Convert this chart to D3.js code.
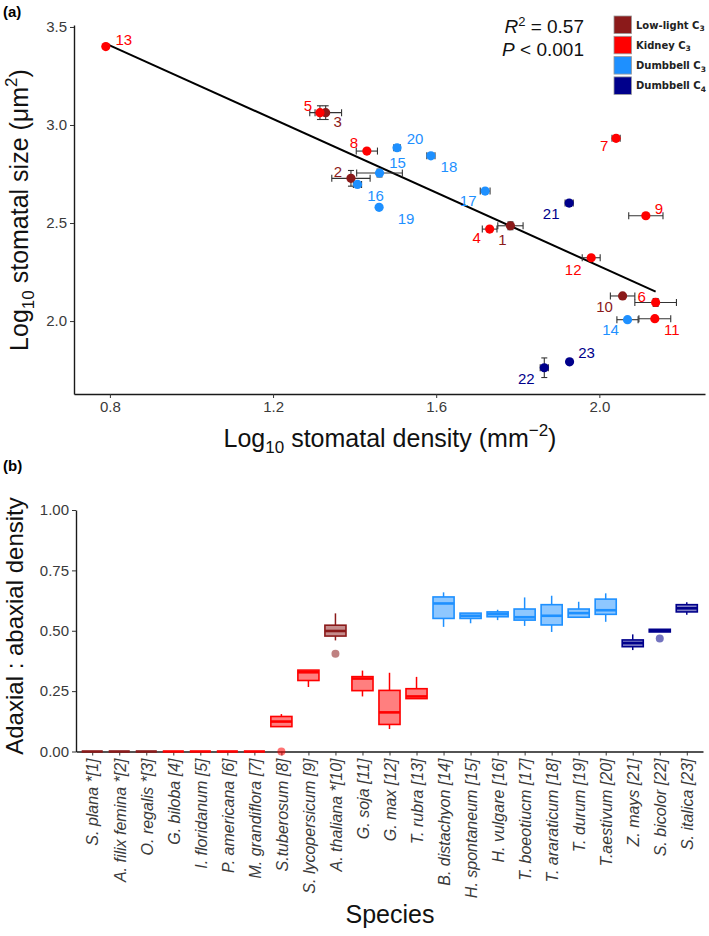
<!DOCTYPE html>
<html>
<head>
<meta charset="utf-8">
<script src="https://cdn.jsdelivr.net/npm/d3@7/dist/d3.min.js"></script>
<style>
  body { margin: 0; background: #fff; }
  svg { display: block; }
</style>
</head>
<body>
<script>
    // ---- panel (a) data: species 1..23 ----
    var speciesIds = d3.range(1, 24);
    var logDensity = [1.782, 1.391, 1.329, 1.731, 1.315, 2.138, 2.041, 1.430, 2.114, 2.057, 2.136, 1.980, 0.790,
                      2.069, 1.461, 1.407, 1.720, 1.587, 1.460, 1.504, 1.926, 1.865, 1.927];
    var logDensityErr = [0.031, 0.047, 0.039, 0.018, 0.012, 0.051, 0.010, 0.026, 0.042, 0.030, 0.039, 0.022, 0.0,
                         0.026, 0.056, 0.010, 0.012, 0.010, 0.0, 0.008, 0.010, 0.010, 0.005];
    var logSize = [2.486, 2.728, 3.063, 2.469, 3.063, 2.095, 2.932, 2.867, 2.537, 2.128, 2.012, 2.323, 3.400,
                   2.007, 2.755, 2.697, 2.663, 2.843, 2.580, 2.884, 2.602, 1.762, 1.792];
    var logSizeErr = [0.02, 0.04, 0.035, 0.01, 0.035, 0.02, 0.01, 0.005, 0.005, 0.01, 0.005, 0.005, 0.0,
                      0.005, 0.02, 0.01, 0.01, 0.01, 0.0, 0.01, 0.01, 0.05, 0.01];
    var groupOf = [0, 0, 0, 1, 1, 1, 1, 1, 1, 0, 1, 1, 1, 2, 2, 2, 2, 2, 2, 2, 3, 3, 3];
    var groupNames = ["Low-light C", "Kidney C", "Dumbbell C", "Dumbbell C"];
    var groupSubs = ["3", "3", "3", "4"];
    var groupColors = ["#8B1A1A", "#FF0000", "#1E90FF", "#00008B"];
    var fitSlope = -0.938, fitIntercept = 4.156;
    var rSquared = "0.57", pText = "0.001";
    var xTicksA = [0.8, 1.2, 1.6, 2.0];
    var yTicksA = [2.0, 2.5, 3.0, 3.5];

    // ---- panel (b) data ----
    var speciesLabels = ["S. plana *[1]", "A. filix femina *[2]", "O. regalis *[3]", "G. biloba [4]",
        "I. floridanum [5]", "P. americana [6]", "M. grandiflora [7]", "S.tuberosum [8]",
        "S. lycopersicum [9]", "A. thaliana *[10]", "G. soja [11]", "G. max [12]", "T. rubra [13]",
        "B. distachyon [14]", "H. spontaneum [15]", "H. vulgare [16]", "T. boeotiucm [17]",
        "T. araraticum [18]", "T. durum [19]", "T.aestivum [20]", "Z. mays [21]", "S. bicolor [22]",
        "S. italica [23]"];
    var whiskerLow = [0, 0, 0, 0, 0, 0, 0, 0.103, 0.267, 0.460, 0.228, 0.093, 0.219,
                      0.516, 0.531, 0.544, 0.520, 0.495, 0.556, 0.537, 0.420, 0.495, 0.566];
    var boxQ1 = [0, 0, 0, 0, 0, 0, 0, 0.103, 0.294, 0.478, 0.252, 0.112, 0.219,
                 0.551, 0.551, 0.558, 0.544, 0.524, 0.556, 0.568, 0.434, 0.495, 0.578];
    var boxMedian = [0, 0, 0, 0, 0, 0, 0, 0.124, 0.328, 0.499, 0.302, 0.162, 0.228,
                     0.613, 0.562, 0.569, 0.556, 0.562, 0.573, 0.585, 0.449, 0.500, 0.593];
    var boxQ3 = [0, 0, 0, 0, 0, 0, 0, 0.145, 0.337, 0.523, 0.310, 0.253, 0.260,
                 0.640, 0.573, 0.578, 0.590, 0.608, 0.590, 0.631, 0.462, 0.506, 0.608];
    var whiskerHigh = [0, 0, 0, 0, 0, 0, 0, 0.155, 0.337, 0.572, 0.335, 0.326, 0.309,
                       0.659, 0.573, 0.587, 0.638, 0.645, 0.620, 0.655, 0.485, 0.506, 0.618];
    var outlierSpecies = [8, 10, 22];
    var outlierValues = [0.0, 0.405, 0.4675];
    var yTicksB = [0, 0.25, 0.5, 0.75, 1.0];

    var W = 709, H = 936;
    var font = "'Liberation Sans', Arial, sans-serif";

    var svg = d3.select("body").append("svg")
        .attr("width", W)
        .attr("height", H)
        .style("font-family", font);

    // ================= panel (a) =================
    var x = d3.scaleLinear().domain([0.712, 2.259]).range([74, 705]);
    var y = d3.scaleLinear().domain([1.628, 3.51]).range([394, 25]);

    svg.append("text")
        .attr("x", 3).attr("y", 17)
        .style("font-size", "15px").style("font-weight", "bold")
        .text("(a)");

    var xAxisA = svg.append("g")
        .attr("transform", "translate(0,394)")
        .call(d3.axisBottom(x).tickValues(xTicksA).tickFormat(d3.format(".1f")).tickSize(4).tickSizeOuter(0).tickPadding(3));
    var yAxisA = svg.append("g")
        .attr("transform", "translate(74,0)")
        .call(d3.axisLeft(y).tickValues(yTicksA).tickFormat(d3.format(".1f")).tickSize(4).tickSizeOuter(0).tickPadding(3));

    [xAxisA, yAxisA].forEach(function(a) {
        a.select(".domain").attr("stroke", "#1a1a1a").attr("stroke-width", 1.4);
        a.selectAll(".tick line").attr("stroke", "#333");
        a.selectAll(".tick text").style("font-size", "15px").style("font-family", font).attr("fill", "#3a3a3a");
    });

    // axis titles
    var xt = svg.append("text")
        .attr("x", 390).attr("y", 447)
        .attr("text-anchor", "middle")
        .style("font-size", "25px").attr("fill", "#111");
    xt.append("tspan").text("Log");
    xt.append("tspan").attr("dy", 6).style("font-size", "17px").text("10");
    xt.append("tspan").attr("dy", -6).text(" stomatal density (mm");
    xt.append("tspan").attr("dy", -11).style("font-size", "17px").text("\u22122");
    xt.append("tspan").attr("dy", 11).text(")");

    var yt = svg.append("text")
        .attr("transform", "translate(28,210) rotate(-90)")
        .attr("text-anchor", "middle")
        .style("font-size", "25px").attr("fill", "#111");
    yt.append("tspan").text("Log");
    yt.append("tspan").attr("dy", 6).style("font-size", "17px").text("10");
    yt.append("tspan").attr("dy", -6).text(" stomatal size (\u03bcm");
    yt.append("tspan").attr("dy", -11).style("font-size", "17px").text("2");
    yt.append("tspan").attr("dy", 11).text(")");

    // regression line over the data range
    var xMin = d3.min(logDensity), xMax = d3.max(logDensity);
    svg.append("line")
        .attr("x1", x(xMin)).attr("y1", y(fitIntercept + fitSlope * xMin))
        .attr("x2", x(xMax)).attr("y2", y(fitIntercept + fitSlope * xMax))
        .attr("stroke", "#000").attr("stroke-width", 2);

    var pts = speciesIds.map(function(id, i) {
        return {id: id, x: logDensity[i], xe: logDensityErr[i], y: logSize[i], ye: logSizeErr[i], g: groupOf[i]};
    });

    // error bars
    var eb = svg.append("g").attr("stroke", "#333").attr("stroke-width", 1.1);
    pts.forEach(function(d) {
        var cx = x(d.x), cy = y(d.y);
        if (d.xe > 0) {
            eb.append("line").attr("x1", x(d.x - d.xe)).attr("x2", x(d.x + d.xe)).attr("y1", cy).attr("y2", cy);
            eb.append("line").attr("x1", x(d.x - d.xe)).attr("x2", x(d.x - d.xe)).attr("y1", cy - 3.5).attr("y2", cy + 3.5);
            eb.append("line").attr("x1", x(d.x + d.xe)).attr("x2", x(d.x + d.xe)).attr("y1", cy - 3.5).attr("y2", cy + 3.5);
        }
        if (d.ye > 0) {
            eb.append("line").attr("x1", cx).attr("x2", cx).attr("y1", y(d.y - d.ye)).attr("y2", y(d.y + d.ye));
            eb.append("line").attr("x1", cx - 3).attr("x2", cx + 3).attr("y1", y(d.y - d.ye)).attr("y2", y(d.y - d.ye));
            eb.append("line").attr("x1", cx - 3).attr("x2", cx + 3).attr("y1", y(d.y + d.ye)).attr("y2", y(d.y + d.ye));
        }
    });

    svg.append("g").selectAll("circle")
        .data(pts)
        .enter()
        .append("circle")
        .attr("cx", d => x(d.x))
        .attr("cy", d => y(d.y))
        .attr("r", 4.6)
        .attr("fill", d => groupColors[d.g]);

    // label nudges in px (layout only)
    var labelNudge = [[-8, 14], [-13, -7], [12, 9], [-13, 8], [-12, -7], [-14, -6], [-12, 7], [-13, -8], [13, -7],
                      [-18, 11], [17, 11], [-18, 12], [18, -7], [-17, 10], [18, -10], [18, 11], [-17, 10],
                      [18, 11], [27, 11], [18, -9], [-18, 11], [-18, 11], [17, -9]];
    svg.append("g").selectAll("text")
        .data(pts)
        .enter()
        .append("text")
        .attr("x", (d, i) => x(d.x) + labelNudge[i][0])
        .attr("y", (d, i) => y(d.y) + labelNudge[i][1])
        .attr("text-anchor", "middle")
        .attr("dy", "0.36em")
        .style("font-size", "15px")
        .attr("fill", d => groupColors[d.g])
        .text(d => d.id);

    // stats
    var r2 = svg.append("text").attr("x", 584).attr("y", 33).attr("text-anchor", "end")
        .style("font-size", "19px").attr("fill", "#111");
    r2.append("tspan").style("font-style", "italic").text("R");
    r2.append("tspan").attr("dy", -7).style("font-size", "13px").text("2");
    r2.append("tspan").attr("dy", 7).text(" = " + rSquared);
    var pv = svg.append("text").attr("x", 584).attr("y", 56).attr("text-anchor", "end")
        .style("font-size", "19px").attr("fill", "#111");
    pv.append("tspan").style("font-style", "italic").text("P");
    pv.append("tspan").text(" < " + pText);

    // legend
    var leg = svg.append("g").attr("transform", "translate(614,16)");
    groupNames.forEach(function(name, i) {
        var row = leg.append("g").attr("transform", "translate(0," + (i * 20.3) + ")");
        row.append("rect").attr("width", 17.5).attr("height", 17.5)
            .attr("fill", groupColors[i]).attr("stroke", "#9a9a9a").attr("stroke-width", 0.8);
        var t = row.append("text").attr("x", 22).attr("y", 12.5)
            .style("font-family", "'DejaVu Sans', Verdana, sans-serif")
            .style("font-weight", "bold").style("font-size", "10px").attr("fill", "#222");
        t.append("tspan").text(name);
        t.append("tspan").attr("dy", 2.5).style("font-size", "7.5px").text(groupSubs[i]);
    });

    // ================= panel (b) =================
    var xb = d3.scalePoint().domain(speciesLabels).range([76, 703]).padding(0.6);
    var yb = d3.scaleLinear().domain([0, 1]).range([751.5, 510]);
    var bw = xb.step() * 0.78;

    svg.append("text")
        .attr("x", 3).attr("y", 471)
        .style("font-size", "15px").style("font-weight", "bold")
        .text("(b)");

    var yAxisB = svg.append("g")
        .attr("transform", "translate(76,0)")
        .call(d3.axisLeft(yb).tickValues(yTicksB).tickFormat(d3.format(".2f")).tickSize(4).tickSizeOuter(0).tickPadding(3));
    var xAxisB = svg.append("g")
        .attr("transform", "translate(0,751.5)")
        .call(d3.axisBottom(xb).tickSize(4).tickSizeOuter(0).tickPadding(3));

    [xAxisB, yAxisB].forEach(function(a) {
        a.select(".domain").attr("stroke", "#1a1a1a").attr("stroke-width", 1.4);
        a.selectAll(".tick line").attr("stroke", "#333");
        a.selectAll(".tick text").style("font-size", "15px").style("font-family", font).attr("fill", "#3a3a3a");
    });
    xAxisB.selectAll(".tick text")
        .attr("transform", "rotate(-90)")
        .attr("x", -7).attr("y", 0).attr("dy", "0.36em")
        .style("text-anchor", "end")
        .style("font-style", "italic")
        .style("font-size", "16px");

    svg.append("text")
        .attr("transform", "translate(23,626) rotate(-90)")
        .attr("text-anchor", "middle")
        .style("font-size", "24px").attr("fill", "#111")
        .text("Adaxial : abaxial density");

    svg.append("text")
        .attr("x", 390).attr("y", 923)
        .attr("text-anchor", "middle")
        .style("font-size", "25px").attr("fill", "#111")
        .text("Species");

    var boxes = svg.append("g").selectAll("g")
        .data(speciesLabels)
        .enter()
        .append("g")
        .each(function(lab, i) {
            var g = d3.select(this);
            var c = groupColors[groupOf[i]];
            var cx = xb(lab);
            g.append("line").attr("x1", cx).attr("x2", cx)
                .attr("y1", yb(whiskerLow[i])).attr("y2", yb(boxQ1[i]))
                .attr("stroke", c).attr("stroke-width", 1.5);
            g.append("line").attr("x1", cx).attr("x2", cx)
                .attr("y1", yb(boxQ3[i])).attr("y2", yb(whiskerHigh[i]))
                .attr("stroke", c).attr("stroke-width", 1.5);
            g.append("rect")
                .attr("x", cx - bw / 2).attr("width", bw)
                .attr("y", yb(boxQ3[i])).attr("height", yb(boxQ1[i]) - yb(boxQ3[i]))
                .attr("fill", c).attr("fill-opacity", 0.5)
                .attr("stroke", c).attr("stroke-width", 1.6);
            g.append("line").attr("x1", cx - bw / 2).attr("x2", cx + bw / 2)
                .attr("y1", yb(boxMedian[i])).attr("y2", yb(boxMedian[i]))
                .attr("stroke", c).attr("stroke-width", 2.6);
        });

    svg.append("g").selectAll("circle")
        .data(outlierSpecies)
        .enter()
        .append("circle")
        .attr("cx", d => xb(speciesLabels[d - 1]))
        .attr("cy", (d, i) => yb(outlierValues[i]))
        .attr("r", 4)
        .attr("fill", d => groupColors[groupOf[d - 1]])
        .attr("fill-opacity", 0.55);
</script>
</body>
</html>
